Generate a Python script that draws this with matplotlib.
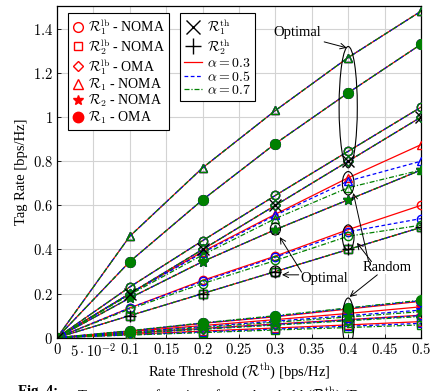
import matplotlib
matplotlib.use("Agg")
import matplotlib.pyplot as plt
from matplotlib.patches import Ellipse
from matplotlib.lines import Line2D

plt.rcParams['font.family'] = ['Liberation Serif', 'DejaVu Serif']
plt.rcParams['mathtext.fontset'] = 'cm'
plt.rcParams['axes.unicode_minus'] = False

# ---------------- data ----------------
rate_th = [0, 0.1, 0.2, 0.3, 0.4, 0.5]
alphas = [0.3, 0.5, 0.7]

# optimal designs (identical for every alpha)
r1_noma_opt = [0, 0.46, 0.77, 1.03, 1.27, 1.48]
r1_oma_opt = [0, 0.345, 0.625, 0.88, 1.11, 1.33]
r1lb_noma_opt = [0, 0.23, 0.44, 0.645, 0.845, 1.045]
r1lb_oma_opt = [0, 0.2, 0.4, 0.6, 0.8, 1.0]
r2lb_noma_opt = [0, 0.1, 0.2, 0.3, 0.4, 0.5]
r2_noma_opt = [0, 0.18, 0.345, 0.49, 0.625, 0.76]

# random designs, one list per alpha (0.3, 0.5, 0.7)
r1_noma_rand = [[0, 0.2, 0.39, 0.56, 0.725, 0.875],
                [0, 0.2, 0.385, 0.555, 0.71, 0.80],
                [0, 0.195, 0.375, 0.54, 0.68, 0.76]]
r1lb_noma_rand = [[0, 0.135, 0.26, 0.37, 0.49, 0.60],
                  [0, 0.135, 0.255, 0.365, 0.48, 0.54],
                  [0, 0.13, 0.245, 0.35, 0.46, 0.51]]
r1_oma_rand = [[0, 0.03, 0.065, 0.095, 0.13, 0.165],
               [0, 0.031, 0.066, 0.097, 0.133, 0.168],
               [0, 0.032, 0.067, 0.1, 0.135, 0.17]]
r2_noma_rand = [[0, 0.028, 0.055, 0.082, 0.11, 0.14],
                [0, 0.025, 0.05, 0.075, 0.1, 0.125],
                [0, 0.024, 0.047, 0.07, 0.094, 0.118]]
r1lb_oma_rand = [[0, 0.021, 0.042, 0.062, 0.082, 0.102],
                 [0, 0.02, 0.04, 0.06, 0.08, 0.1],
                 [0, 0.019, 0.038, 0.057, 0.077, 0.096]]
r2lb_noma_rand = [[0, 0.015, 0.03, 0.044, 0.058, 0.073],
                  [0, 0.013, 0.026, 0.039, 0.052, 0.065],
                  [0, 0.012, 0.023, 0.035, 0.046, 0.058]]

r1_th = [0, 0.2, 0.4, 0.6, 0.8, 1.0]
r2_th = [0, 0.1, 0.2, 0.3, 0.4, 0.5]

x_ticks = [0, 0.05, 0.1, 0.15, 0.2, 0.25, 0.3, 0.35, 0.4, 0.45, 0.5]
x_ticklabels = ['$0$', r'$5\cdot10^{-2}$', '$0.1$', '$0.15$', '$0.2$', '$0.25$', '$0.3$',
                '$0.35$', '$0.4$', '$0.45$', '$0.5$']
y_ticks = [0, 0.2, 0.4, 0.6, 0.8, 1.0, 1.2, 1.4]
y_ticklabels = ['$0$', '$0.2$', '$0.4$', '$0.6$', '$0.8$', '$1$', '$1.2$', '$1.4$']

# ---------------- styles ----------------
colors = ['#ff0000', '#0000ff', '#008000']
styles = ['-', (0, (3, 2)), (0, (4, 1.5, 1, 1.5))]

fig = plt.figure(figsize=(4.30, 3.91), dpi=100)
ax = fig.add_axes([57 / 430, 1 - 337.7 / 391, 364 / 430, 332 / 391])

fs = 10.5
lfs = 10
ms = 6
lw = 0.9

groups = [
    ('o', False, [r1lb_noma_rand[i] for i in range(3)]),
    ('s', False, [r2lb_noma_rand[i] for i in range(3)]),
    ('D', False, [r1lb_oma_rand[i] for i in range(3)]),
    ('*', True, [r2_noma_rand[i] for i in range(3)]),
    ('^', False, [r1_noma_rand[i] for i in range(3)]),
    ('o', True, [r1_oma_rand[i] for i in range(3)]),
    ('s', False, [r2lb_noma_opt] * 3),
    ('D', False, [r1lb_oma_opt] * 3),
    ('*', True, [r2_noma_opt] * 3),
    ('o', False, [r1lb_noma_opt] * 3),
    ('o', True, [r1_oma_opt] * 3),
    ('^', False, [r1_noma_opt] * 3),
]

for i in range(3):
    for mk, filled, vals in groups:
        msz = ms - 1.2 if mk == 'D' else (ms + 1.5 if mk == '*' else ms)
        if mk == 'o' and filled:
            msz = ms + 1
        ax.plot(rate_th, vals[i], color=colors[i], linestyle=styles[i], lw=lw,
                marker=mk, markersize=msz,
                markerfacecolor=colors[i] if filled else 'none',
                markeredgecolor=colors[i], markeredgewidth=1.0, zorder=3 + i)

ax.plot(rate_th, r1_th, linestyle='none', marker='x', color='black',
        markersize=8, markeredgewidth=1.0, zorder=8)
ax.plot(rate_th, r2_th, linestyle='none', marker='+', color='black',
        markersize=9, markeredgewidth=1.0, zorder=8)

# ellipses
ell = [(0.4, 1.045, 0.025, 0.55), (0.4, 0.70, 0.016, 0.106), (0.4, 0.455, 0.016, 0.113),
       (0.4, 0.07, 0.016, 0.22), (0.3, 0.493, 0.014, 0.055), (0.3, 0.30, 0.015, 0.05)]
for cx, cy, w, h in ell:
    ax.add_patch(Ellipse((cx, cy), w, h, fill=False, edgecolor='black', lw=0.8, zorder=9))

# annotations
arrow = dict(arrowstyle='->', color='black', lw=0.7, shrinkA=0, shrinkB=0)
ax.text(0.33, 1.385, 'Optimal', fontsize=fs, ha='center', va='center', zorder=10)
ax.annotate('', xy=(0.398, 1.314), xytext=(0.367, 1.341), arrowprops=arrow, zorder=10)
ax.text(0.367, 0.27, 'Optimal', fontsize=fs, ha='center', va='center', zorder=10)
ax.annotate('', xy=(0.306, 0.456), xytext=(0.336, 0.297), arrowprops=arrow, zorder=10)
ax.annotate('', xy=(0.309, 0.285), xytext=(0.332, 0.285), arrowprops=arrow, zorder=10)
ax.text(0.4535, 0.32, 'Random', fontsize=fs, ha='center', va='center', zorder=10,
        bbox=dict(facecolor='white', edgecolor='none', pad=0.5))
ax.annotate('', xy=(0.407, 0.656), xytext=(0.428, 0.345), arrowprops=arrow, zorder=10)
ax.annotate('', xy=(0.412, 0.43), xytext=(0.432, 0.345), arrowprops=arrow, zorder=10)
ax.annotate('', xy=(0.402, 0.185), xytext=(0.44, 0.285), arrowprops=arrow, zorder=10)

ax.set_xlim(0, 0.5)
ax.set_ylim(0, 1.505)
ax.set_xticks(x_ticks)
ax.set_xticklabels(x_ticklabels, fontsize=fs)
ax.set_yticks(y_ticks)
ax.set_yticklabels(y_ticklabels, fontsize=fs)
ax.tick_params(direction='in', length=3, width=0.6, pad=3)
ax.grid(True, color='#d3d3d3', lw=0.8)
ax.set_axisbelow(True)
for s in ax.spines.values():
    s.set_linewidth(0.9)

ax.set_xlabel(r'Rate Threshold ($\mathcal{R}^{\mathrm{th}}$) [bps/Hz]', fontsize=fs, labelpad=1)
ax.set_ylabel('Tag Rate [bps/Hz]', fontsize=fs, labelpad=3)

# legends
def mh(mk, filled, size=ms):
    return Line2D([], [], linestyle='none', marker=mk, markersize=size, color='red',
                  markerfacecolor='red' if filled else 'none', markeredgewidth=1.0)

h1 = [mh('o', False, ms + 1), mh('s', False), mh('D', False, ms - 0.5), mh('^', False, ms + 0.5),
      mh('*', True, ms + 1.5), mh('o', True, ms + 1.5)]
l1 = [r'$\mathcal{R}_1^{\mathrm{lb}}$ - NOMA', r'$\mathcal{R}_2^{\mathrm{lb}}$ - NOMA',
      r'$\mathcal{R}_1^{\mathrm{lb}}$ - OMA', r'$\mathcal{R}_1$ - NOMA',
      r'$\mathcal{R}_2$ - NOMA', r'$\mathcal{R}_1$ - OMA']
leg1 = ax.legend(h1, l1, loc='upper left', bbox_to_anchor=(0.03, 0.978), fontsize=lfs,
                 frameon=True, fancybox=False, edgecolor='black', framealpha=1,
                 handlelength=0.8, handletextpad=0.35, labelspacing=0.0, borderpad=0.3,
                 borderaxespad=0)
leg1.get_frame().set_linewidth(0.8)
leg1.set_zorder(20)
ax.add_artist(leg1)

h2 = [Line2D([], [], linestyle='none', marker='x', color='black', markersize=10, markeredgewidth=1.0),
      Line2D([], [], linestyle='none', marker='+', color='black', markersize=11, markeredgewidth=1.0),
      Line2D([], [], color=colors[0], linestyle=styles[0], lw=lw),
      Line2D([], [], color=colors[1], linestyle=styles[1], lw=lw),
      Line2D([], [], color=colors[2], linestyle=styles[2], lw=lw)]
l2 = [r'$\mathcal{R}_1^{\mathrm{th}}$', r'$\mathcal{R}_2^{\mathrm{th}}$',
      r'$\alpha = 0.3$', r'$\alpha = 0.5$', r'$\alpha = 0.7$']
leg2 = ax.legend(h2, l2, loc='upper left', bbox_to_anchor=(0.338, 0.978), fontsize=lfs,
                 frameon=True, fancybox=False, edgecolor='black', framealpha=1,
                 handlelength=1.3, handletextpad=0.35, labelspacing=0.0, borderpad=0.3,
                 borderaxespad=0)
leg2.get_frame().set_linewidth(0.8)
leg2.set_zorder(20)

# partially visible caption at the bottom edge (cut off, as in the source figure)
fig.text(18 / 430, 1 - 385 / 391, 'Fig. 4:', fontsize=fs, fontweight='bold', va='top', ha='left')
fig.text(77 / 430, 1 - 385 / 391, r'Tag rate as a function of rate threshold ($\mathcal{R}^{\mathrm{th}}$) (D',
         fontsize=fs, va='top', ha='left')

fig.savefig('out.png', dpi=100)
